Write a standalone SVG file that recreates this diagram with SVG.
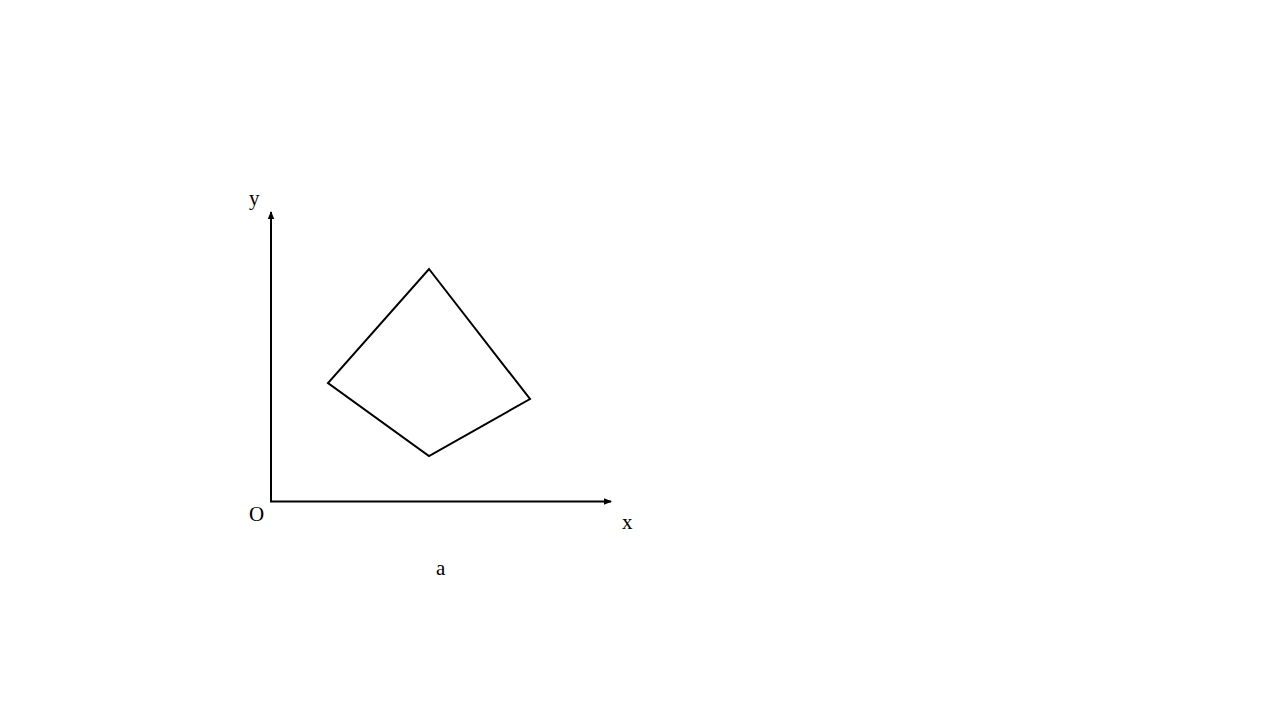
<svg xmlns="http://www.w3.org/2000/svg" width="1280" height="720" viewBox="0 0 1280 720">
<style>
.ax{stroke:#000;stroke-width:2;fill:none}
.t{font-family:"Liberation Serif","Times New Roman",serif;font-size:21px;fill:#000}
</style>
<defs>
<marker id="ar" markerWidth="8" markerHeight="8" refX="7" refY="4" orient="auto" markerUnits="userSpaceOnUse">
<path d="M0,0.8 L8,4 L0,7.2 Z" fill="#000"/>
</marker>
</defs>
<rect width="1280" height="720" fill="#fff"/>
<g id="connectors">
<line class="ax" x1="271" y1="502" x2="271" y2="212" marker-end="url(#ar)"/>
<line class="ax" x1="270" y1="501.5" x2="611" y2="501.5" marker-end="url(#ar)"/>
</g>
<g id="shape">
<polygon points="429,269 530,399 429,456 328,383" fill="none" stroke="#000" stroke-width="2" stroke-linejoin="miter"/>
</g>
<g id="labels">
<text class="t" x="249" y="205">y</text>
<text class="t" x="249" y="521">O</text>
<text class="t" x="622" y="529">x</text>
<text class="t" x="436" y="575">a</text>
</g>
</svg>
